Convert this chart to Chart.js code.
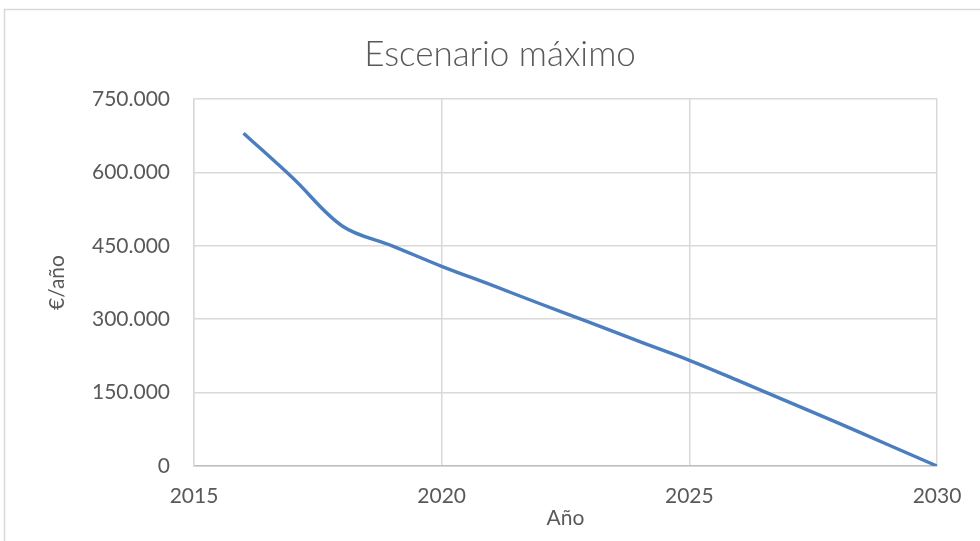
<!DOCTYPE html>
<html>
<head>
<meta charset="utf-8">
<script src="https://cdn.jsdelivr.net/npm/chart.js@4/dist/chart.umd.min.js"></script>
<style>
  html, body { margin: 0; padding: 0; background: #ffffff; }
  #wrap { position: relative; width: 980px; height: 541px; }
</style>
</head>
<body>
<div id="wrap"><canvas id="c" width="980" height="541"></canvas></div>
<script>
const chartTitle = "Escenario máximo";
const xTitle = "Año";
const yTitle = "€/año";
const years = [2016, 2017, 2018, 2019, 2020, 2021, 2022, 2023, 2024, 2025, 2026, 2027, 2028, 2029, 2030];
const values = [680000, 588000, 490000, 450000, 408000, 370000, 331000, 293000, 254000, 216000, 174000, 131000, 88000, 44000, 0];
const xTicks = [2015, 2020, 2025, 2030];
const yTicks = [0, 150000, 300000, 450000, 600000, 750000];

const points = years.map((y, i) => ({ x: y, y: values[i] }));
const fmt = v => String(v).replace(/\B(?=(\d{3})+(?!\d))/g, '.');

const frame = {
  id: 'frame',
  beforeDraw(chart) {
    const ctx = chart.ctx;
    ctx.save();
    ctx.fillStyle = '#ffffff';
    ctx.fillRect(0, 0, chart.width, chart.height);
    ctx.strokeStyle = '#d9d9d9';
    ctx.lineWidth = 1.5;
    ctx.strokeRect(4.5, 9.5, 1000, 600);
    ctx.restore();
  }
};

new Chart(document.getElementById('c'), {
  type: 'line',
  data: {
    datasets: [{
      data: points,
      borderColor: '#4a7ebf',
      borderWidth: 3.4,
      pointRadius: 0,
      tension: 0.35,
      fill: false
    }]
  },
  options: {
    responsive: false,
    animation: false,
    layout: { padding: { left: 20, right: 0, top: 0, bottom: 0 } },
    plugins: {
      legend: { display: false },
      tooltip: { enabled: false },
      title: {
        display: true,
        text: chartTitle,
        color: '#595959',
        font: { family: 'Lato', size: 35, weight: 300 },
        padding: { top: 34, bottom: 23 }
      }
    },
    scales: {
      x: {
        type: 'linear',
        min: xTicks[0],
        max: xTicks[xTicks.length - 1],
        afterBuildTicks: s => { s.ticks = xTicks.map(v => ({ value: v })); },
        afterFit: s => { s.height = 75; },
        grid: { color: '#d9d9d9', lineWidth: 1.5, drawTicks: false },
        border: { color: '#bfbfbf', width: 1.5 },
        ticks: {
          color: '#595959',
          font: { family: 'Lato', size: 21 },
          padding: 18,
          maxRotation: 0,
          callback: v => String(v)
        },
        title: {
          display: true,
          text: xTitle,
          color: '#595959',
          font: { family: 'Lato', size: 21 },
          padding: { top: 0, bottom: 10 }
        }
      },
      y: {
        min: 0,
        max: 750000,
        afterBuildTicks: s => { s.ticks = yTicks.map(v => ({ value: v })); },
        afterFit: s => { s.width = 174; },
        grid: { color: '#d9d9d9', lineWidth: 1.5, drawTicks: false },
        border: { color: '#d9d9d9', width: 1.5 },
        ticks: {
          color: '#595959',
          font: { family: 'Lato', size: 21 },
          padding: 24,
          callback: v => fmt(v)
        },
        title: {
          display: true,
          text: yTitle,
          color: '#595959',
          font: { family: 'Lato', size: 21 },
          padding: { top: 25, bottom: 0 }
        }
      },
      yRight: {
        position: 'right',
        min: 0,
        max: 750000,
        afterFit: s => { s.width = 43; },
        grid: { display: false, drawTicks: false },
        border: { display: false },
        ticks: { display: false }
      }
    }
  },
  plugins: [frame]
});
</script>
</body>
</html>
